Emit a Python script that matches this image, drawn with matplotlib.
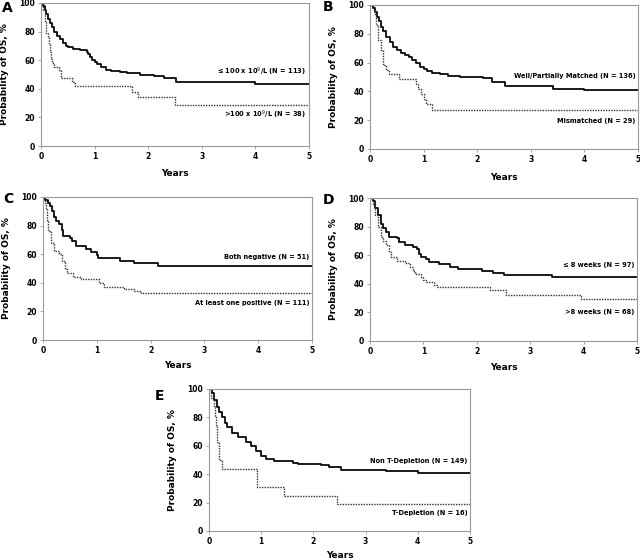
import matplotlib
matplotlib.use("Agg")
import matplotlib.pyplot as plt

# ---------------- Data ----------------
# Panel A
a_solid_t = [0, 0.04, 0.07, 0.1, 0.13, 0.17, 0.21, 0.25, 0.3, 0.35, 0.41, 0.46, 0.5, 0.6, 0.72, 0.85, 0.88, 0.91, 0.95, 1.0, 1.05, 1.12, 1.22, 1.3, 1.47, 1.6, 1.84, 2.1, 2.3, 2.52, 4.0, 5.0]
a_solid_s = [100, 98, 95, 92, 89, 86, 83, 80, 77, 75, 72, 70, 69, 68, 67, 66, 64, 62, 60, 58.5, 57, 55, 53, 52.5, 52, 51, 50, 49, 47.5, 45, 43.5, 43.5]
a_dot_t = [0, 0.04, 0.07, 0.1, 0.13, 0.15, 0.17, 0.19, 0.21, 0.25, 0.33, 0.38, 0.57, 0.63, 1.69, 1.81, 2.5, 5.0]
a_dot_s = [100, 95, 87, 79, 76, 71, 66, 61, 58, 55, 53, 47.5, 45, 42, 38, 34, 28.5, 28.5]

# Panel B
b_solid_t = [0, 0.05, 0.09, 0.13, 0.16, 0.2, 0.25, 0.3, 0.37, 0.43, 0.5, 0.57, 0.65, 0.72, 0.78, 0.85, 0.93, 1.0, 1.06, 1.15, 1.31, 1.45, 1.68, 2.1, 2.27, 2.52, 3.42, 4.0, 5.0]
b_solid_s = [100, 98, 95, 92, 89, 85, 82, 78, 74, 71, 68.5, 67, 65, 64, 62, 60, 57, 55.5, 54, 53, 52, 51, 50, 49, 46.5, 43.5, 42, 41, 41]
b_dot_t = [0, 0.08, 0.1, 0.12, 0.15, 0.2, 0.25, 0.3, 0.35, 0.55, 0.85, 0.9, 0.95, 1.0, 1.05, 1.15, 5.0]
b_dot_s = [100, 96.5, 93, 86, 76, 69, 58.5, 55, 52, 48.5, 45, 41.5, 38, 34.5, 31, 27, 27]

# Panel C
c_solid_t = [0, 0.04, 0.1, 0.13, 0.16, 0.2, 0.25, 0.3, 0.35, 0.37, 0.5, 0.53, 0.62, 0.8, 0.9, 1.0, 1.03, 1.43, 1.7, 2.13, 5.0]
c_solid_s = [100, 98, 96, 94, 90, 86, 83, 81, 77, 73, 71, 69, 65.5, 63.5, 61.5, 59.5, 57.5, 55.5, 53.5, 51.5, 51.5]
c_dot_t = [0, 0.03, 0.05, 0.08, 0.1, 0.15, 0.2, 0.3, 0.35, 0.4, 0.45, 0.55, 0.7, 1.0, 1.05, 1.13, 1.5, 1.7, 1.82, 5.0]
c_dot_s = [100, 96, 92, 84, 76, 68, 62, 60, 55, 50, 47, 44, 43, 42.5, 40, 37, 35.5, 34.5, 33, 33]

# Panel D
d_solid_t = [0, 0.05, 0.1, 0.15, 0.2, 0.25, 0.3, 0.35, 0.5, 0.55, 0.65, 0.8, 0.88, 0.92, 0.95, 1.05, 1.1, 1.3, 1.5, 1.65, 2.1, 2.3, 2.5, 3.4, 5.0]
d_solid_s = [100, 98, 93, 88, 82, 79, 76, 73, 72, 69, 67, 66, 64, 61, 59, 57, 55, 54, 52, 50.5, 49, 47.5, 46, 44.5, 44.5]
d_dot_t = [0, 0.05, 0.1, 0.15, 0.2, 0.25, 0.3, 0.35, 0.4, 0.5, 0.65, 0.75, 0.8, 0.85, 0.95, 1.0, 1.05, 1.2, 1.25, 2.25, 2.55, 3.95, 5.0]
d_dot_s = [100, 96, 88, 80, 73, 70, 67, 62, 59, 56, 54.5, 52, 49, 47, 45, 43, 41, 39.5, 38, 36, 32, 29.5, 29.5]

# Panel E
e_solid_t = [0, 0.05, 0.1, 0.15, 0.2, 0.25, 0.3, 0.35, 0.45, 0.55, 0.7, 0.8, 0.9, 1.0, 1.1, 1.25, 1.6, 1.7, 2.15, 2.3, 2.52, 3.4, 4.0, 5.0]
e_solid_s = [100, 97, 92, 87, 84, 80, 76, 73, 69, 66, 63, 60, 56, 53, 51, 49, 48, 47.5, 46.5, 45, 43, 42, 41, 41]
e_dot_t = [0, 0.04, 0.1, 0.12, 0.13, 0.15, 0.16, 0.19, 0.2, 0.25, 0.91, 1.44, 2.45, 5.0]
e_dot_s = [100, 93.75, 87.5, 81.25, 75, 68.75, 62.5, 56.25, 50, 43.75, 31.25, 25, 18.75, 18.75]

labels_solid = ["\u2264 100 x 10$^9$/L (N = 113)", "Well/Partially Matched (N = 136)",
                "Both negative (N = 51)", "\u2264 8 weeks (N = 97)", "Non T-Depletion (N = 149)"]
labels_dot = [">100 x 10$^9$/L (N = 38)", "Mismatched (N = 29)",
              "At least one positive (N = 111)", ">8 weeks (N = 68)", "T-Depletion (N = 16)"]
label_y_solid = [52, 50.5, 58, 53.4, 49.3]
label_y_dot = [22, 19.2, 25.6, 20.3, 12.7]
panel_letters = ["A", "B", "C", "D", "E"]
x_ticks = [0, 1, 2, 3, 4, 5]
y_ticks = [0, 20, 40, 60, 80, 100]

solids = [(a_solid_t, a_solid_s), (b_solid_t, b_solid_s), (c_solid_t, c_solid_s),
          (d_solid_t, d_solid_s), (e_solid_t, e_solid_s)]
dots = [(a_dot_t, a_dot_s), (b_dot_t, b_dot_s), (c_dot_t, c_dot_s),
        (d_dot_t, d_dot_s), (e_dot_t, e_dot_s)]

# ---------------- Layout (pixels: left, top, right, bottom) ----------------
W, H = 640, 560
boxes = [(41, 3, 309, 146), (370, 5, 638, 149), (43, 197, 312, 340),
         (370, 198, 637, 341), (209, 389, 470, 531)]
letter_pos = [(7, 1), (328, 0), (8, 192), (328, 193), (159, 389)]   # left-center x, top y
years_y = [174, 177, 366, 367, 556]

plt.rcParams['font.family'] = ['DejaVu Sans']
fig = plt.figure(figsize=(6.4, 5.6), dpi=100)
spine_col = "#999999"

for i in range(5):
    l, t, r, b = boxes[i]
    ax = fig.add_axes([l / W, 1 - b / H, (r - l) / W, (b - t) / H])
    st, ss = solids[i]
    dt, ds = dots[i]
    ax.step(st, ss, where="post", color="black", lw=1.25)
    ax.step(dt, ds, where="post", color="#333333", lw=1.0, linestyle=(0, (1, 0.9)))
    ax.set_xlim(0, 5)
    ax.set_ylim(0, 100)
    ax.set_xticks(x_ticks)
    ax.set_yticks(y_ticks)
    ax.tick_params(axis="both", labelsize=5.5, length=2.5, width=0.6, color=spine_col, pad=2)
    for lab in ax.get_xticklabels() + ax.get_yticklabels():
        lab.set_fontweight("bold")
    for sp in ax.spines.values():
        sp.set_color(spine_col)
        sp.set_linewidth(0.8)
    ax.set_ylabel("Probability of OS, %", fontsize=6.5, fontweight="bold", labelpad=7)
    ax.text(4.95, label_y_solid[i], labels_solid[i], ha="right", va="center",
            fontsize=4.8, fontweight="bold")
    ax.text(4.95, label_y_dot[i], labels_dot[i], ha="right", va="center",
            fontsize=4.8, fontweight="bold")
    fig.text(((l + r) / 2) / W, 1 - years_y[i] / H, "Years", fontsize=6.5,
             fontweight="bold", ha="center", va="center")
    lx, ly = letter_pos[i]
    fig.text(lx / W, 1 - ly / H, panel_letters[i], fontsize=10, fontweight="bold",
             ha="center", va="top")

fig.savefig("out.png", dpi=100)
